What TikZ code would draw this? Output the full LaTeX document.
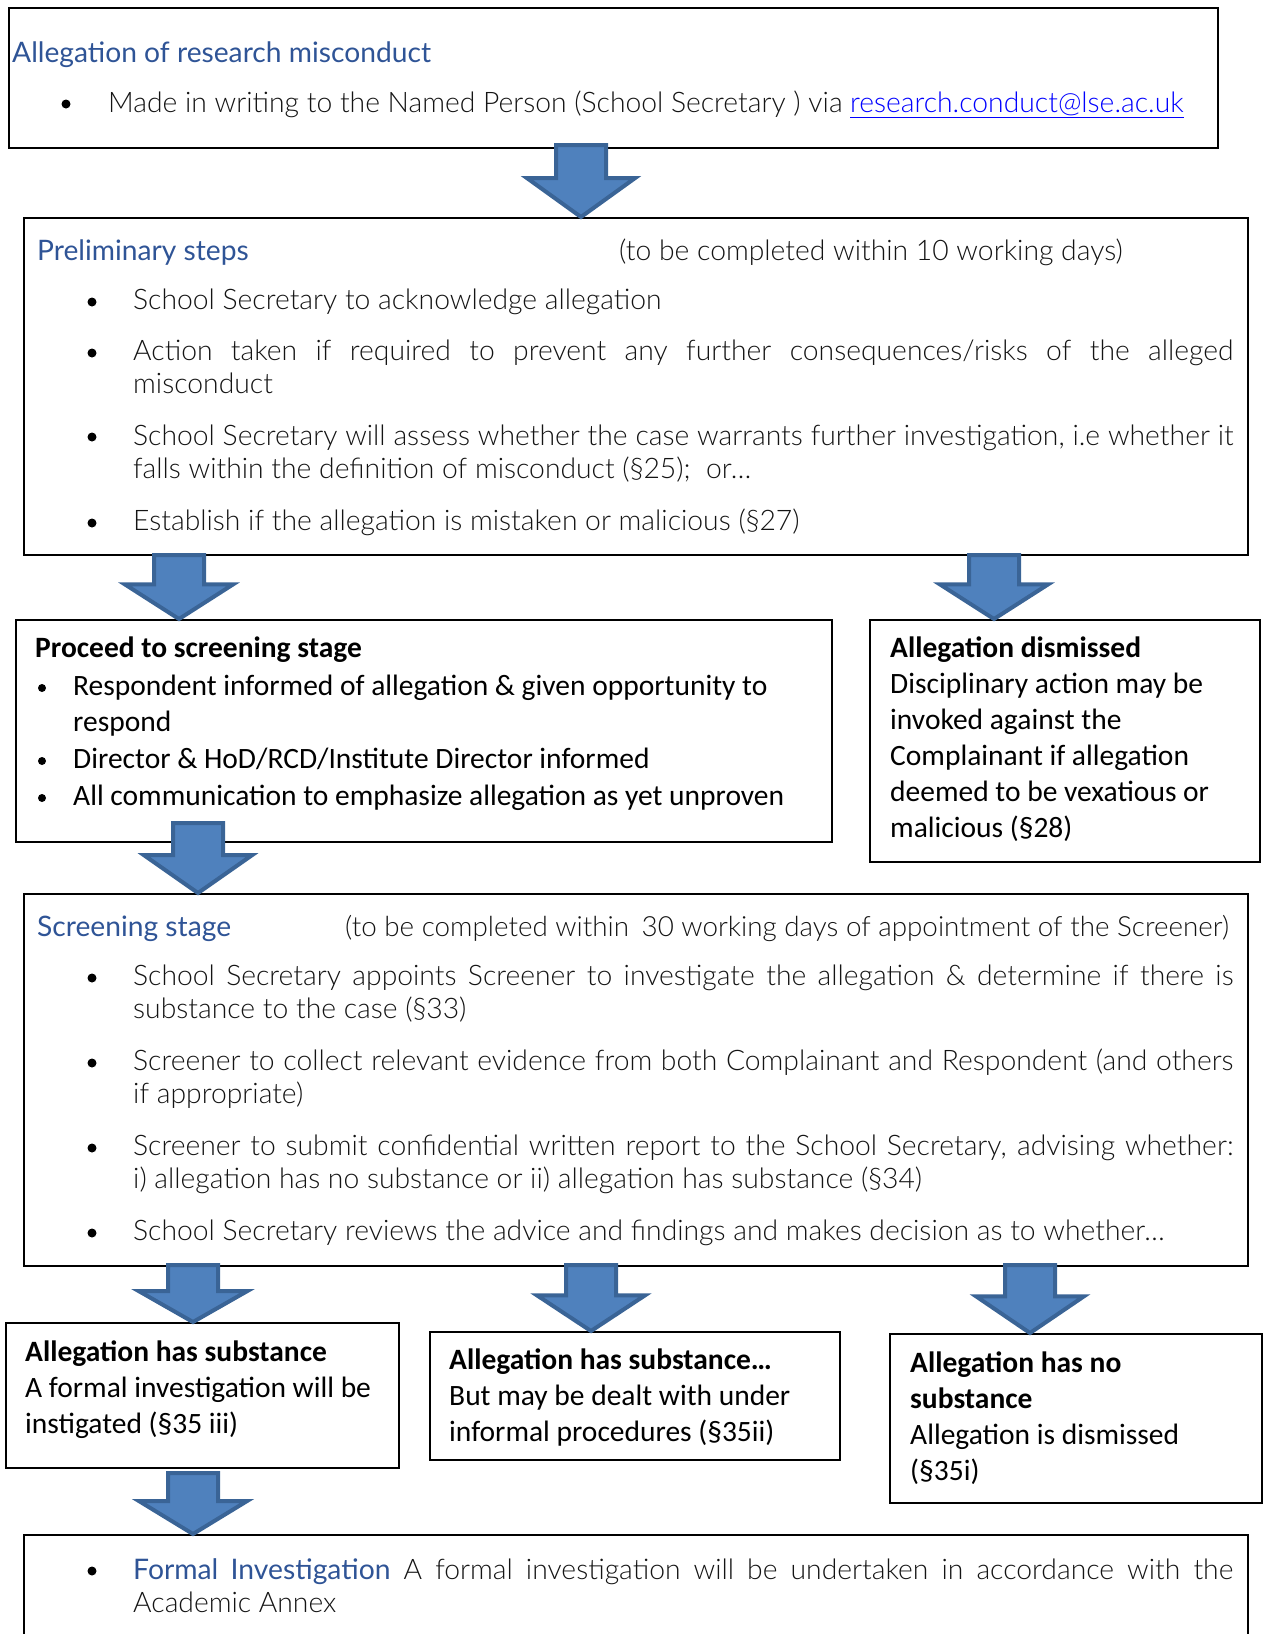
\documentclass[tikz,border=0pt]{standalone}
\usepackage{fontspec}
\setmainfont{Carlito}
\newfontfamily\lightsans{Lato Light}
\newfontfamily\headsans{Lato}
\usepackage{tikz}
\usetikzlibrary{calc}
\definecolor{headblue}{HTML}{2F5496}
\definecolor{arrowfill}{HTML}{4F81BD}
\definecolor{arrowline}{HTML}{3A6496}
\definecolor{linkblue}{HTML}{0000FF}
\tikzset{
  stagebox/.style={draw, line width=2pt, inner sep=0pt, anchor=north west},
  heading/.style={anchor=base west, inner sep=0pt, text=headblue, font=\headsans\fontsize{28.2}{33.5}\selectfont},
  lighttext/.style={anchor=base west, inner sep=0pt, text=black!92, font=\lightsans\fontsize{28.3}{33.5}\selectfont},
  para/.style={lighttext, text width=1100pt, align=justify},
  cbtext/.style={anchor=base west, inner sep=0pt, text width=740pt, align=left,
    execute at begin node={\spaceskip=0pt\xspaceskip=0pt}, font=\fontsize{29.5}{36}\selectfont},
  bul/.style={circle, fill=black, inner sep=0pt, minimum size=9pt},
  fatarrow/.style={fill=arrowfill, draw=arrowline, line width=4pt, line join=miter}
}
% block arrow from a top point down to a tip point
\newcommand{\blockarrow}[2]{%
  \draw[fatarrow] let \p1=(#1), \p2=(#2), \n1={0.46*(\y2-\y1)} in
    (\x1-25pt,\y1) -- (\x1+25pt,\y1) -- (\x1+25pt,\y1+\n1) -- (\x1+54pt,\y1+\n1)
    -- (\x1,\y2) -- (\x1-54pt,\y1+\n1) -- (\x1-25pt,\y1+\n1) -- cycle;}

\begin{document}
\begin{tikzpicture}[x=1pt, y=-1pt]
  \useasboundingbox (0,0) rectangle (1262,1634);

  % boxes
  \node[stagebox, minimum width=1209pt, minimum height=140pt] (alleg) at (8,7) {};
  \node[stagebox, minimum width=1224pt, minimum height=337pt] (prelim) at (23,217) {};
  \node[stagebox, minimum width=816pt, minimum height=222pt] (proceed) at (15,619) {};
  \node[stagebox, minimum width=390pt, minimum height=242pt] (dismiss) at (869,619) {};
  \node[stagebox, minimum width=1224pt, minimum height=372pt] (screen) at (23,893) {};
  \node[stagebox, minimum width=393pt, minimum height=145pt] (subst) at (5,1322) {};
  \node[stagebox, minimum width=410pt, minimum height=128pt] (informal) at (429,1331) {};
  \node[stagebox, minimum width=372pt, minimum height=169pt] (nosubst) at (889,1333) {};
  \node[stagebox, minimum width=1224pt, minimum height=200pt] (formal) at (23,1534) {};

  % allegation
  \node[heading] (allegtitle) at (12,62) {Allegation of research misconduct};
  \node[bul] at (66,104) {};
  \node[lighttext] (allegtext) at (108,112) {Made in writing to the Named Person (School Secretary ) via {\color{linkblue}\underline{research.conduct@lse.ac.uk}}};

  % preliminary steps
  \node[heading] (prelimtitle) at (37,260) {Preliminary steps};
  \node[lighttext] (prelimtime) at (619,260) {(to be completed within 10 working days)};
  \foreach \y in {302,353,437,523}
    \node[bul] at (92,\y) {};
  \node[para] (p1) at (133,309) {School Secretary to acknowledge allegation};
  \node[para] (p2) at (133,360) {Action taken if required to prevent any further consequences/risks of the alleged\linebreak misconduct};
  \node[para] (p3) at (133,445) {School Secretary will assess whether the case warrants further investigation, i.e whether it\linebreak falls within the definition of misconduct (§25);~ or…};
  \node[para] (p4) at (133,530) {Establish if the allegation is mistaken or malicious (§27)};

  % proceed / dismissed
  \node[cbtext] (proceedtitle) at (35,657) {\textbf{Proceed to screening stage}};
  \foreach \y in {688,761,798}
    \node[bul, minimum size=8pt] at (42,\y) {};
  \node[cbtext] (q1) at (73,695) {Respondent informed of allegation \& given opportunity to\\respond};
  \node[cbtext] (q2) at (73,768) {Director \& HoD/RCD/Institute Director informed};
  \node[cbtext] (q3) at (73,805) {All communication to emphasize allegation as yet unproven};
  \node[cbtext, text width=360pt] (dismisstext) at (890,657) {\textbf{Allegation dismissed}\\Disciplinary action may be\\invoked against the\\Complainant if allegation\\deemed to be vexatious or\\malicious (§28)};

  % screening stage
  \node[heading] (screentitle) at (37,936) {Screening stage};
  \node[lighttext, font=\lightsans\fontsize{27.8}{33.5}\selectfont] (screentime) at (345,936) {(to be completed within\hspace{5pt} 30 working days of appointment of the Screener)};
  \foreach \y in {978,1063,1148,1233}
    \node[bul] at (92,\y) {};
  \node[para] (s1) at (133,985) {School Secretary appoints Screener to investigate the allegation \& determine if there is\linebreak substance to the case (§33)};
  \node[para] (s2) at (133,1070) {Screener to collect relevant evidence from both Complainant and Respondent (and others\linebreak if appropriate)};
  \node[para] (s3) at (133,1155) {Screener to submit confidential written report to the School Secretary, advising whether:\linebreak i) allegation has no substance or ii) allegation has substance (§34)};
  \node[para] (s4) at (133,1240) {School Secretary reviews the advice and findings and makes decision as to whether…};

  % outcomes
  \node[cbtext, text width=370pt] (substtext) at (25,1361) {\textbf{Allegation has substance}\\A formal investigation will be\\instigated (§35 iii)};
  \node[cbtext, text width=380pt] (informaltext) at (449,1369) {\textbf{Allegation has substance…}\\But may be dealt with under\\informal procedures (§35ii)};
  \node[cbtext, text width=340pt] (nosubsttext) at (910,1372) {\textbf{Allegation has no}\\\textbf{substance}\\Allegation is dismissed\\(§35i)};

  % formal investigation
  \node[bul] at (92,1571) {};
  \node[para] (f1) at (133,1579) {{\headsans\color{headblue}Formal Investigation} A formal investigation will be undertaken in accordance with the\linebreak Academic Annex};

  % arrows
  \coordinate (a1) at (581,145);
  \coordinate (a2) at (179,555);
  \coordinate (a3) at (994,555);
  \coordinate (a4) at (198,823);
  \coordinate (a5) at (193,1265);
  \coordinate (a6) at (591,1265);
  \coordinate (a7) at (1030,1265);
  \coordinate (a8) at (193,1473);
  \blockarrow{a1}{prelim.north -| a1}
  \blockarrow{a2}{proceed.north -| a2}
  \blockarrow{a3}{dismiss.north -| a3}
  \blockarrow{a4}{screen.north -| a4}
  \blockarrow{a5}{subst.north -| a5}
  \blockarrow{a6}{informal.north -| a6}
  \blockarrow{a7}{nosubst.north -| a7}
  \blockarrow{a8}{formal.north -| a8}
\end{tikzpicture}
\end{document}
